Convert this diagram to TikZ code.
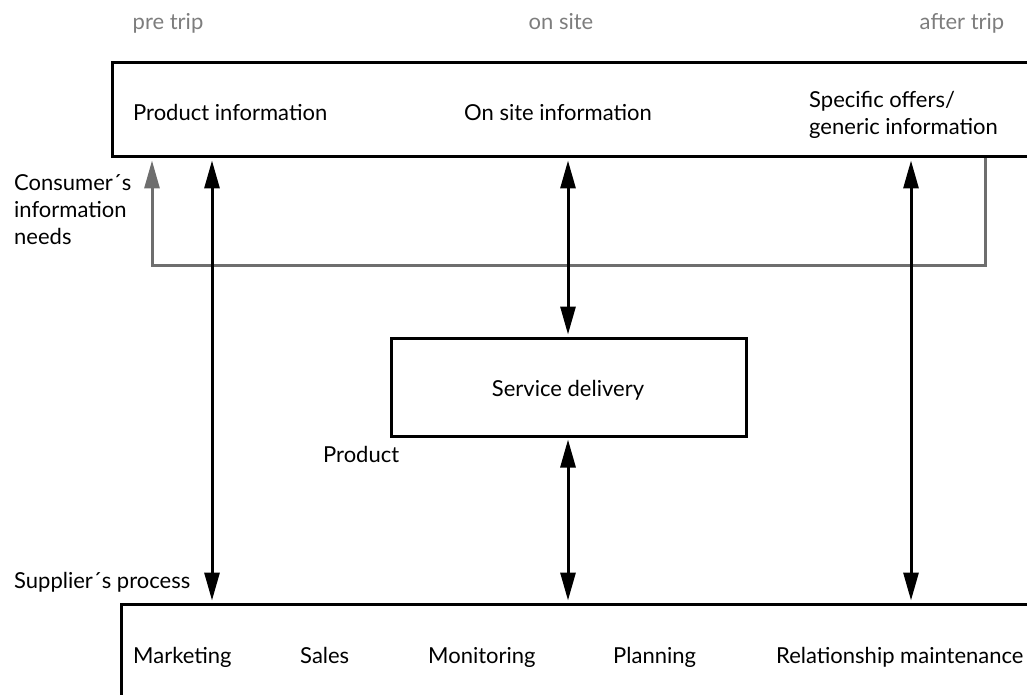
\documentclass[tikz,border=0pt]{standalone}
\usepackage{fontspec}
\setmainfont{Lato}
\usetikzlibrary{arrows.meta}
\definecolor{lgray}{RGB}{110,110,110}
\definecolor{tgray}{RGB}{125,125,125}
\tikzset{
  box/.style={draw=black, line width=3pt, inner sep=0pt},
  lbl/.style={font=\fontsize{22}{26}\selectfont, inner sep=0pt, anchor=base west, text=black},
  hdr/.style={font=\fontsize{22}{26}\selectfont, inner sep=0pt, anchor=base, text=tgray},
  dbl/.style={line width=3pt, shorten <=2pt, shorten >=2pt, {Triangle[length=28pt,width=15pt]}-{Triangle[length=28pt,width=15pt]}},
  fb/.style={line width=3pt, draw=lgray, shorten >=2pt, -{Triangle[length=28pt,width=15pt]}},
}
\begin{document}
\begin{tikzpicture}[x=1pt,y=-1pt]
\useasboundingbox (0,0) rectangle (1027,695);
\clip (0,0) rectangle (1027,695);
% header labels
\node[hdr] (pre) at (168,30) {pre trip};
\node[hdr] (ons) at (561,30) {on site};
\node[hdr] (aft) at (962,30) {after trip};
% boxes
\node[box, minimum width=940pt, minimum height=94pt] (top) at (582,110) {};
\node[box, minimum width=355pt, minimum height=98pt] (svc) at (568.5,387) {};
\node[box, minimum width=930pt, minimum height=130pt] (bot) at (586,669) {};
% texts in top box
\node[lbl] (pinfo) at (133,121) {Product information};
\node[lbl] (oinfo) at (464,121) {On site information};
\node[lbl] (sinfo1) at (809,108) {Specific offers/};
\node[lbl] (sinfo2) at (809,135) {generic information};
\node[lbl, anchor=base] (sdel) at (568,396) {Service delivery};
\node[lbl] (prod) at (323,462) {Product};
\node[lbl] (cons1) at (14,190) {Consumer\textasciiacute s};
\node[lbl] (cons2) at (14,217) {information};
\node[lbl] (cons3) at (14,244) {needs};
\node[lbl] (supp) at (14,588) {Supplier\textasciiacute s process};
% bottom labels
\node[lbl] (mkt) at (133,663) {Marketing};
\node[lbl] (sal) at (300,663) {Sales};
\node[lbl] (mon) at (428,663) {Monitoring};
\node[lbl] (pla) at (613,663) {Planning};
\node[lbl] (rel) at (776,663) {Relationship maintenance};
% coordinates
\coordinate (xa) at (212,0);
\coordinate (xb) at (568,0);
\coordinate (xc) at (911,0);
\coordinate (fl) at (152,0);
\coordinate (fr) at (985,0);
\coordinate (fy) at (0,265);
% feedback gray
\draw[fb] (top.south -| fr) -- (fy -| fr) -- (fy -| fl) -- (top.south -| fl);
% black arrows
\draw[dbl] (top.south -| xa) -- (bot.north -| xa);
\draw[dbl] (top.south -| xb) -- (svc.north -| xb);
\draw[dbl] (svc.south -| xb) -- (bot.north -| xb);
\draw[dbl] (top.south -| xc) -- (bot.north -| xc);
\end{tikzpicture}
\end{document}
